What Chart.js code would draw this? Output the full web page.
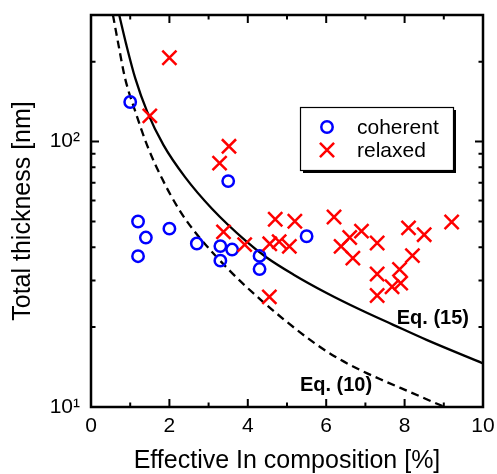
<!DOCTYPE html>
<html>
<head>
<meta charset="utf-8">
<script src="https://cdn.jsdelivr.net/npm/chart.js@4.4.0/dist/chart.umd.min.js"></script>
<style>
html, body { margin: 0; padding: 0; background: #fff; }
#wrap { width: 497px; height: 474px; }
</style>
</head>
<body>
<div id="wrap"><canvas id="chart" width="497" height="474"></canvas></div>
<script>
// points
var coherentX = [1.0, 1.2, 1.4, 1.2, 2.0, 2.7, 3.3, 3.3, 3.5, 3.6, 4.3, 4.3, 5.5];
var coherentY = [141, 50, 43.5, 37, 47, 41.3, 40.4, 35.6, 71, 39.2, 37.1, 33.1, 44];

var relaxedX = [2.0, 1.5, 3.52, 3.28, 3.38, 3.92, 4.56, 4.8, 5.06, 4.7, 5.2, 4.55,
    6.2, 6.6, 6.9, 6.38, 6.68, 7.3, 7.3, 7.3, 7.68, 7.9, 7.87, 8.2, 8.1, 8.5, 9.2];
var relaxedY = [207, 125, 96, 83, 45.7, 40.9, 41.2, 42, 40.3, 51, 50.1, 26,
    52, 43.5, 46, 40.3, 36.4, 41.5, 31.7, 26.3, 28.4, 29.3, 33, 37.2, 47.3, 44.6, 49.8];

// Eq. (15) - solid curve
var eq15X = [0.72, 0.90, 1.13, 1.43, 1.85, 2.40, 3.08, 3.97, 4.48, 5.16, 6.01, 6.86, 7.71, 8.56, 10];
var eq15Y = [300, 232, 173, 130, 97, 73.5, 56, 42, 36.6, 31.6, 26.9, 23.3, 20.4, 17.9, 14.6];

// Eq. (10) - dashed curve
var eq10X = [0.56, 0.70, 0.87, 1.13, 1.43, 1.81, 2.23, 2.61, 3.55, 4.31, 4.95, 5.59, 6.22, 6.86, 7.5, 8.13, 8.56, 9.02];
var eq10Y = [300, 232, 173, 130, 97, 72.7, 56, 46.5, 32.5, 25.5, 21.2, 17.9, 15.5, 13.8, 12.5, 11.4, 10.7, 10];

var xTickLabels = ["0", "2", "4", "6", "8", "10"];
var yMinor = [20, 30, 40, 50, 60, 70, 80, 90, 200, 300];

var FONT = '"Liberation Sans", Arial, sans-serif';

function pts(xs, ys) {
    return xs.map((x, i) => ({ x: x, y: ys[i] }));
}

// cadre, graduations vers l'interieur, legende, etiquettes
var decor = {
    id: "decor",
    afterDraw(chart) {
        var ctx = chart.ctx;
        var a = chart.chartArea;
        var sx = chart.scales.x, sy = chart.scales.y;
        ctx.save();
        ctx.strokeStyle = "#000";
        ctx.lineWidth = 2.5;
        ctx.strokeRect(a.left, a.top, a.right - a.left, a.bottom - a.top);

        ctx.lineWidth = 2;
        ctx.beginPath();
        for (var v = 0; v <= 10; v++) {
            var px = sx.getPixelForValue(v);
            var len = v % 2 === 0 ? 8 : 4.5;
            ctx.moveTo(px, a.bottom); ctx.lineTo(px, a.bottom - len);
            ctx.moveTo(px, a.top); ctx.lineTo(px, a.top + len);
        }
        [10, 100].concat(yMinor).forEach(function (v) {
            var py = sy.getPixelForValue(v);
            var len = (v === 10 || v === 100) ? 8 : 4.5;
            ctx.moveTo(a.left, py); ctx.lineTo(a.left + len, py);
            ctx.moveTo(a.right, py); ctx.lineTo(a.right - len, py);
        });
        ctx.stroke();

        // legende
        var lx = 300, ly = 107, lw = 153, lh = 63;
        ctx.fillStyle = "#000";
        ctx.fillRect(lx + 3, ly + 3, lw, lh);
        ctx.fillStyle = "#fff";
        ctx.fillRect(lx, ly, lw, lh);
        ctx.lineWidth = 1.2;
        ctx.strokeRect(lx + 0.5, ly + 0.5, lw, lh);

        var items = [chart.data.datasets[0], chart.data.datasets[1]];
        items.forEach(function (ds, i) {
            var y = ly + 20 + i * 23;
            ctx.strokeStyle = ds.borderColor;
            ctx.fillStyle = "rgba(0,0,0,0)";
            ctx.lineWidth = ds.borderWidth;
            Chart.helpers.drawPoint(ctx, { pointStyle: ds.pointStyle, radius: ds.pointRadius, borderWidth: ds.borderWidth, rotation: 0 }, lx + 27, y);
            ctx.fillStyle = "#000";
            ctx.font = "21px " + FONT;
            ctx.textAlign = "left";
            ctx.textBaseline = "middle";
            ctx.fillText(ds.label, lx + 57, y + 1);
        });

        ctx.font = "bold 20px " + FONT;
        ctx.textAlign = "center";
        ctx.fillText("Eq. (15)", sx.getPixelForValue(8.72), sy.getPixelForValue(21.5));
        ctx.fillText("Eq. (10)", sx.getPixelForValue(6.25), sy.getPixelForValue(12.1));
        ctx.restore();
    }
};

new Chart(document.getElementById("chart"), {
    type: "scatter",
    data: {
        datasets: [
            {
                label: "coherent",
                data: pts(coherentX, coherentY),
                pointStyle: "circle",
                pointRadius: 5.7,
                borderWidth: 2.5,
                borderColor: "#0000ff",
                backgroundColor: "rgba(0,0,0,0)",
                order: 1
            },
            {
                label: "relaxed",
                data: pts(relaxedX, relaxedY),
                pointStyle: "crossRot",
                pointRadius: 10,
                borderWidth: 2.5,
                borderColor: "#ff0000",
                backgroundColor: "#ff0000",
                order: 0
            },
            {
                label: "Eq. (15)",
                data: pts(eq15X, eq15Y),
                showLine: true,
                pointRadius: 0,
                borderColor: "#000",
                borderWidth: 2.3,
                cubicInterpolationMode: "monotone",
                order: 2
            },
            {
                label: "Eq. (10)",
                data: pts(eq10X, eq10Y),
                showLine: true,
                pointRadius: 0,
                borderColor: "#000",
                borderWidth: 2.3,
                borderDash: [8, 5],
                cubicInterpolationMode: "monotone",
                order: 3
            }
        ]
    },
    options: {
        responsive: false,
        animation: false,
        layout: { padding: { top: 15, right: 14, left: 0, bottom: 0 } },
        plugins: { legend: { display: false }, tooltip: { enabled: false } },
        scales: {
            x: {
                type: "linear",
                min: 0,
                max: 10,
                grid: { display: false, drawTicks: false },
                border: { display: false },
                ticks: {
                    stepSize: 2,
                    padding: 7,
                    color: "#000",
                    font: { size: 21, family: FONT },
                    callback: (v) => xTickLabels[v / 2]
                },
                title: {
                    display: true,
                    text: "Effective In composition [%]",
                    color: "#000",
                    font: { size: 25, family: FONT, lineHeight: 1 },
                    padding: { top: 0, bottom: 0 }
                },
                afterFit: (s) => { s.height = 67; s.paddingLeft = 0; s.paddingRight = 0; }
            },
            y: {
                type: "logarithmic",
                min: 10,
                max: 300,
                grid: { display: false, drawTicks: false },
                border: { display: false },
                afterBuildTicks: (s) => { s.ticks = [{ value: 10 }, { value: 100 }]; },
                ticks: {
                    padding: 11,
                    color: "#000",
                    font: { size: 21, family: FONT },
                    callback: (v) => v === 10 ? "10\u00b9" : "10\u00b2"
                },
                title: {
                    display: true,
                    text: "Total thickness [nm]",
                    color: "#000",
                    font: { size: 25, family: FONT, lineHeight: 1.2 },
                    padding: { top: 8, bottom: 0 }
                },
                afterFit: (s) => { s.width = 91; s.paddingTop = 0; s.paddingBottom = 0; }
            }
        }
    },
    plugins: [decor]
});
</script>
</body>
</html>
